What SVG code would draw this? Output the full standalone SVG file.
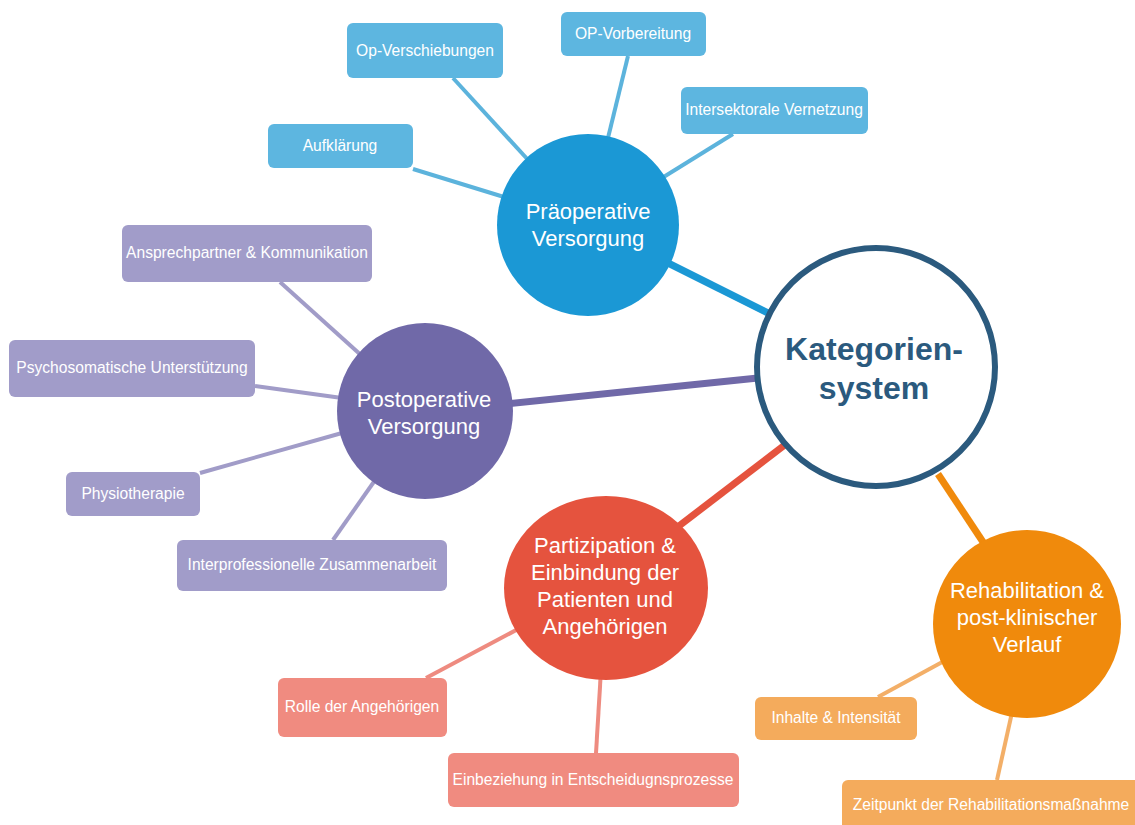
<svg xmlns="http://www.w3.org/2000/svg" width="1135" height="825" viewBox="0 0 1135 825">
  <style>
    .bg { fill: #ffffff; }
    .lbl { font-family: "Liberation Sans", Arial, sans-serif; font-size: 15.6px; fill: #ffffff; text-anchor: middle; }
    .hub { font-family: "Liberation Sans", Arial, sans-serif; font-size: 22px; fill: #ffffff; text-anchor: middle; }
    .core { font-family: "Liberation Sans", Arial, sans-serif; font-size: 32px; font-weight: bold; fill: #2b5a7e; text-anchor: middle; }
    .box-blue { fill: #5db6e0; }
    .box-purple { fill: #a19cc9; }
    .box-red { fill: #f08b80; }
    .box-orange { fill: #f4ab5c; }
    .thin { stroke-width: 4; stroke-linecap: butt; fill: none; }
    .thick { stroke-width: 7; stroke-linecap: butt; fill: none; }
    .c-blue { stroke: #5cb3dc; }
    .c-purple { stroke: #a19cc8; }
    .c-red { stroke: #ee8b80; }
    .c-orange { stroke: #f3af68; }
    .t-blue { stroke: #1b98d5; }
    .t-purple { stroke: #7069a8; }
    .t-red { stroke: #e5533e; }
    .t-orange { stroke: #f08a0c; }
  </style>

  <rect class="bg" x="0" y="0" width="1135" height="825"/>

  <!-- connectors -->
  <g id="connectors">
    <line class="thick t-blue" x1="660" y1="259" x2="770" y2="314"/>
    <line class="thick t-purple" x1="505" y1="404" x2="758" y2="378"/>
    <line class="thick t-red" x1="675" y1="529" x2="786" y2="444"/>
    <line class="thick t-orange" x1="938" y1="474" x2="985" y2="545"/>

    <line class="thin c-blue" x1="453" y1="78" x2="530" y2="162"/>
    <line class="thin c-blue" x1="628" y1="56" x2="607" y2="142"/>
    <line class="thin c-blue" x1="733" y1="134" x2="662" y2="178"/>
    <line class="thin c-blue" x1="413" y1="169" x2="504" y2="197"/>

    <line class="thin c-purple" x1="280" y1="282" x2="362" y2="356"/>
    <line class="thin c-purple" x1="255" y1="386" x2="342" y2="398"/>
    <line class="thin c-purple" x1="200" y1="473" x2="342" y2="433"/>
    <line class="thin c-purple" x1="333" y1="540" x2="378" y2="476"/>

    <line class="thin c-red" x1="426" y1="678" x2="520" y2="628"/>
    <line class="thin c-red" x1="596" y1="753" x2="601" y2="670"/>

    <line class="thin c-orange" x1="878" y1="697" x2="946" y2="660"/>
    <line class="thin c-orange" x1="997" y1="780" x2="1013" y2="708"/>
  </g>

  <!-- central node -->
  <g id="kategoriensystem">
    <circle cx="876" cy="367" r="119" fill="#ffffff" stroke="#2b5a7e" stroke-width="6"/>
    <text class="core" x="874" y="360">Kategorien-</text>
    <text class="core" x="874" y="399">system</text>
  </g>

  <!-- main categories -->
  <g id="praeoperative-versorgung">
    <circle cx="588" cy="225" r="91" fill="#1b98d5"/>
    <text class="hub" x="588" y="219">Präoperative</text>
    <text class="hub" x="588" y="246">Versorgung</text>
  </g>

  <g id="postoperative-versorgung">
    <circle cx="425" cy="411" r="88" fill="#7069a8"/>
    <text class="hub" x="424" y="407">Postoperative</text>
    <text class="hub" x="424" y="434">Versorgung</text>
  </g>

  <g id="partizipation">
    <ellipse cx="606" cy="588" rx="102" ry="92" fill="#e5533e"/>
    <text class="hub" x="605" y="553">Partizipation &amp;</text>
    <text class="hub" x="605" y="580">Einbindung der</text>
    <text class="hub" x="605" y="607">Patienten und</text>
    <text class="hub" x="605" y="634">Angehörigen</text>
  </g>

  <g id="rehabilitation">
    <circle cx="1027" cy="624" r="94" fill="#f08a0c"/>
    <text class="hub" x="1027" y="598">Rehabilitation &amp;</text>
    <text class="hub" x="1027" y="625">post-klinischer</text>
    <text class="hub" x="1027" y="652">Verlauf</text>
  </g>

  <!-- subcategories: preoperative -->
  <g id="op-verschiebungen">
    <rect class="box-blue" x="347" y="23" width="156" height="55" rx="6"/>
    <text class="lbl" x="425" y="56">Op-Verschiebungen</text>
  </g>
  <g id="op-vorbereitung">
    <rect class="box-blue" x="561" y="12" width="145" height="44" rx="6"/>
    <text class="lbl" x="633" y="39">OP-Vorbereitung</text>
  </g>
  <g id="intersektorale-vernetzung">
    <rect class="box-blue" x="681" y="87" width="187" height="47" rx="6"/>
    <text class="lbl" x="774" y="115">Intersektorale Vernetzung</text>
  </g>
  <g id="aufklaerung">
    <rect class="box-blue" x="268" y="124" width="145" height="44" rx="6"/>
    <text class="lbl" x="340" y="151">Aufklärung</text>
  </g>

  <!-- subcategories: postoperative -->
  <g id="ansprechpartner">
    <rect class="box-purple" x="122" y="225" width="250" height="57" rx="6"/>
    <text class="lbl" x="247" y="258">Ansprechpartner &amp; Kommunikation</text>
  </g>
  <g id="psychosomatische-unterstuetzung">
    <rect class="box-purple" x="9" y="340" width="246" height="57" rx="6"/>
    <text class="lbl" x="132" y="373">Psychosomatische Unterstützung</text>
  </g>
  <g id="physiotherapie">
    <rect class="box-purple" x="66" y="472" width="134" height="44" rx="6"/>
    <text class="lbl" x="133" y="499">Physiotherapie</text>
  </g>
  <g id="interprofessionelle-zusammenarbeit">
    <rect class="box-purple" x="177" y="540" width="270" height="51" rx="6"/>
    <text class="lbl" x="312" y="570">Interprofessionelle Zusammenarbeit</text>
  </g>

  <!-- subcategories: participation -->
  <g id="rolle-der-angehoerigen">
    <rect class="box-red" x="278" y="678" width="169" height="59" rx="6"/>
    <text class="lbl" x="362" y="712">Rolle der Angehörigen</text>
  </g>
  <g id="einbeziehung">
    <rect class="box-red" x="448" y="753" width="291" height="54" rx="6"/>
    <text class="lbl" x="593" y="785">Einbeziehung in Entscheidugnsprozesse</text>
  </g>

  <!-- subcategories: rehabilitation -->
  <g id="inhalte-intensitaet">
    <rect class="box-orange" x="755" y="697" width="162" height="43" rx="6"/>
    <text class="lbl" x="836" y="723">Inhalte &amp; Intensität</text>
  </g>
  <g id="zeitpunkt">
    <rect class="box-orange" x="842" y="780" width="305" height="60" rx="6"/>
    <text class="lbl" x="991" y="810">Zeitpunkt der Rehabilitationsmaßnahme</text>
  </g>
</svg>
